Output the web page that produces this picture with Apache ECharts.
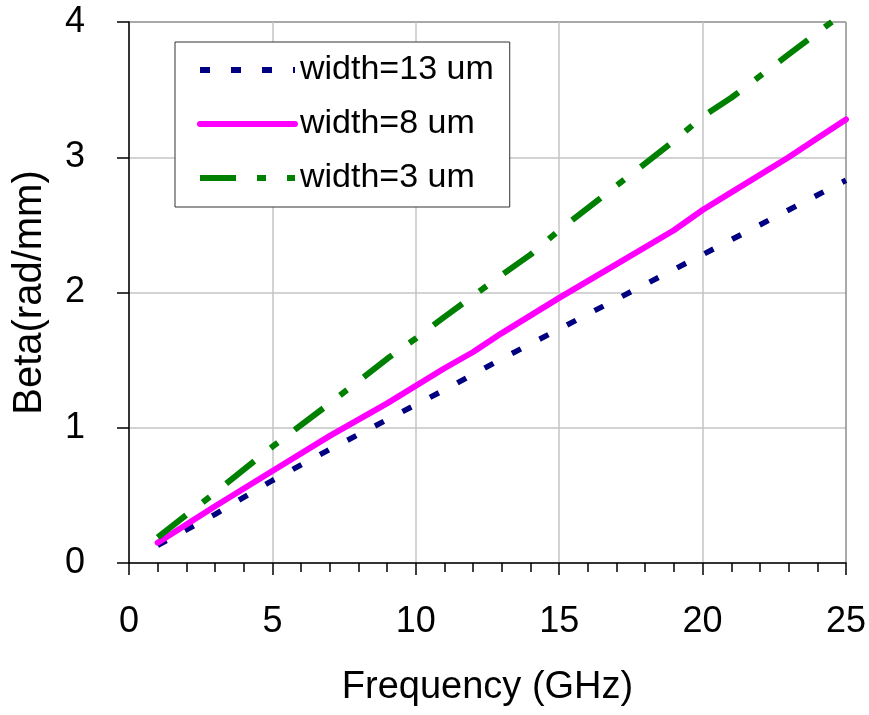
<!DOCTYPE html>
<html>
<head>
<meta charset="utf-8">
<script src="https://cdn.jsdelivr.net/npm/echarts@6/dist/echarts.min.js"></script>
<style>
  html, body { margin: 0; padding: 0; background: #fff; }
  #main { width: 869px; height: 715px; }
</style>
</head>
<body>
<div id="main"></div>
<script>
// values, [GHz, rad/mm]
var freq13 = [1, 3, 5, 7, 9, 10, 11, 13, 15, 17, 19, 20, 21, 23, 25];
var beta13 = [0.13, 0.36, 0.61, 0.84, 1.06, 1.17, 1.28, 1.51, 1.73, 1.95, 2.17, 2.28, 2.39, 2.61, 2.83];

var freq8 = [1, 3, 5, 7, 9, 11, 12, 13, 15, 17, 19, 20, 21, 23, 24, 25];
var beta8 = [0.15, 0.42, 0.68, 0.94, 1.18, 1.44, 1.56, 1.70, 1.96, 2.21, 2.46, 2.61, 2.74, 3.00, 3.14, 3.28];

var freq3 = [1, 3, 5, 7, 9, 10, 11, 13, 14, 15, 17, 19, 20, 21, 23, 25];
var beta3 = [0.19, 0.52, 0.86, 1.18, 1.51, 1.66, 1.82, 2.13, 2.28, 2.46, 2.79, 3.12, 3.30, 3.44, 3.76, 4.08];

var seriesNames = ['width=13 um', 'width=8 um', 'width=3 um'];

function pairs(xs, ys) {
    return xs.map(function (x, i) { return [x, ys[i]]; });
}

var fontFamily = "'Liberation Sans', Arial, sans-serif";
var gridGray = '#c4c4c4';
var borderGray = '#8c8c8c';

var myChart = echarts.init(document.getElementById('main'));

var option = {
    animation: false,
    backgroundColor: '#fff',
    grid: {
        left: 129,
        right: 20,
        top: 22,
        bottom: 152
    },
    legend: {
        data: seriesNames,
        orient: 'vertical',
        left: 175,
        top: 42,
        backgroundColor: '#fff',
        borderColor: '#333',
        borderWidth: 1,
        borderRadius: 0,
        padding: [10, 16, 11, 22],
        itemWidth: 95,
        itemHeight: 14,
        itemGap: 18,
        itemStyle: { opacity: 0 },
        lineStyle: { width: 6 },
        textStyle: {
            fontFamily: fontFamily,
            fontSize: 34,
            lineHeight: 36,
            color: '#000'
        }
    },
    xAxis: {
        type: 'value',
        min: 0,
        max: 25,
        interval: 5,
        name: 'Frequency (GHz)',
        nameLocation: 'middle',
        nameGap: 106,
        nameTextStyle: { fontFamily: fontFamily, fontSize: 38, color: '#000' },
        axisLine: { lineStyle: { color: '#000', width: 1.5 } },
        axisTick: { length: 12, lineStyle: { color: '#000', width: 1.5 } },
        minorTick: { show: true, splitNumber: 5, length: 9, lineStyle: { color: '#000', width: 1.5 } },
        axisLabel: { fontFamily: fontFamily, fontSize: 36, color: '#000', margin: 41 },
        splitLine: {
            show: true,
            lineStyle: { color: [gridGray, gridGray, gridGray, gridGray, gridGray, borderGray], width: 1.5 }
        }
    },
    yAxis: {
        type: 'value',
        min: 0,
        max: 4,
        interval: 1,
        name: 'Beta(rad/mm)',
        nameLocation: 'middle',
        nameGap: 79,
        nameTextStyle: { fontFamily: fontFamily, fontSize: 40, color: '#000' },
        axisLine: { show: true, lineStyle: { color: '#000', width: 1.5 } },
        axisTick: { show: true, length: 12, lineStyle: { color: '#000', width: 1.5 } },
        axisLabel: { fontFamily: fontFamily, fontSize: 36, color: '#000', margin: 44 },
        splitLine: {
            show: true,
            lineStyle: { color: [gridGray, gridGray, gridGray, gridGray, borderGray], width: 1.5 }
        }
    },
    series: [
        {
            name: seriesNames[0],
            type: 'line',
            symbol: 'none',
            data: pairs(freq13, beta13),
            lineStyle: { color: '#000080', width: 5.5, type: [10, 21] },
            itemStyle: { color: '#000080' }
        },
        {
            name: seriesNames[1],
            type: 'line',
            symbol: 'none',
            data: pairs(freq8, beta8),
            lineStyle: { color: '#ff00ff', width: 6, cap: 'round' },
            itemStyle: { color: '#ff00ff' }
        },
        {
            name: seriesNames[2],
            type: 'line',
            symbol: 'none',
            data: pairs(freq3, beta3),
            lineStyle: { color: '#008000', width: 6, type: [36, 21, 9, 21] },
            itemStyle: { color: '#008000' }
        }
    ]
};

myChart.setOption(option);
</script>
</body>
</html>
